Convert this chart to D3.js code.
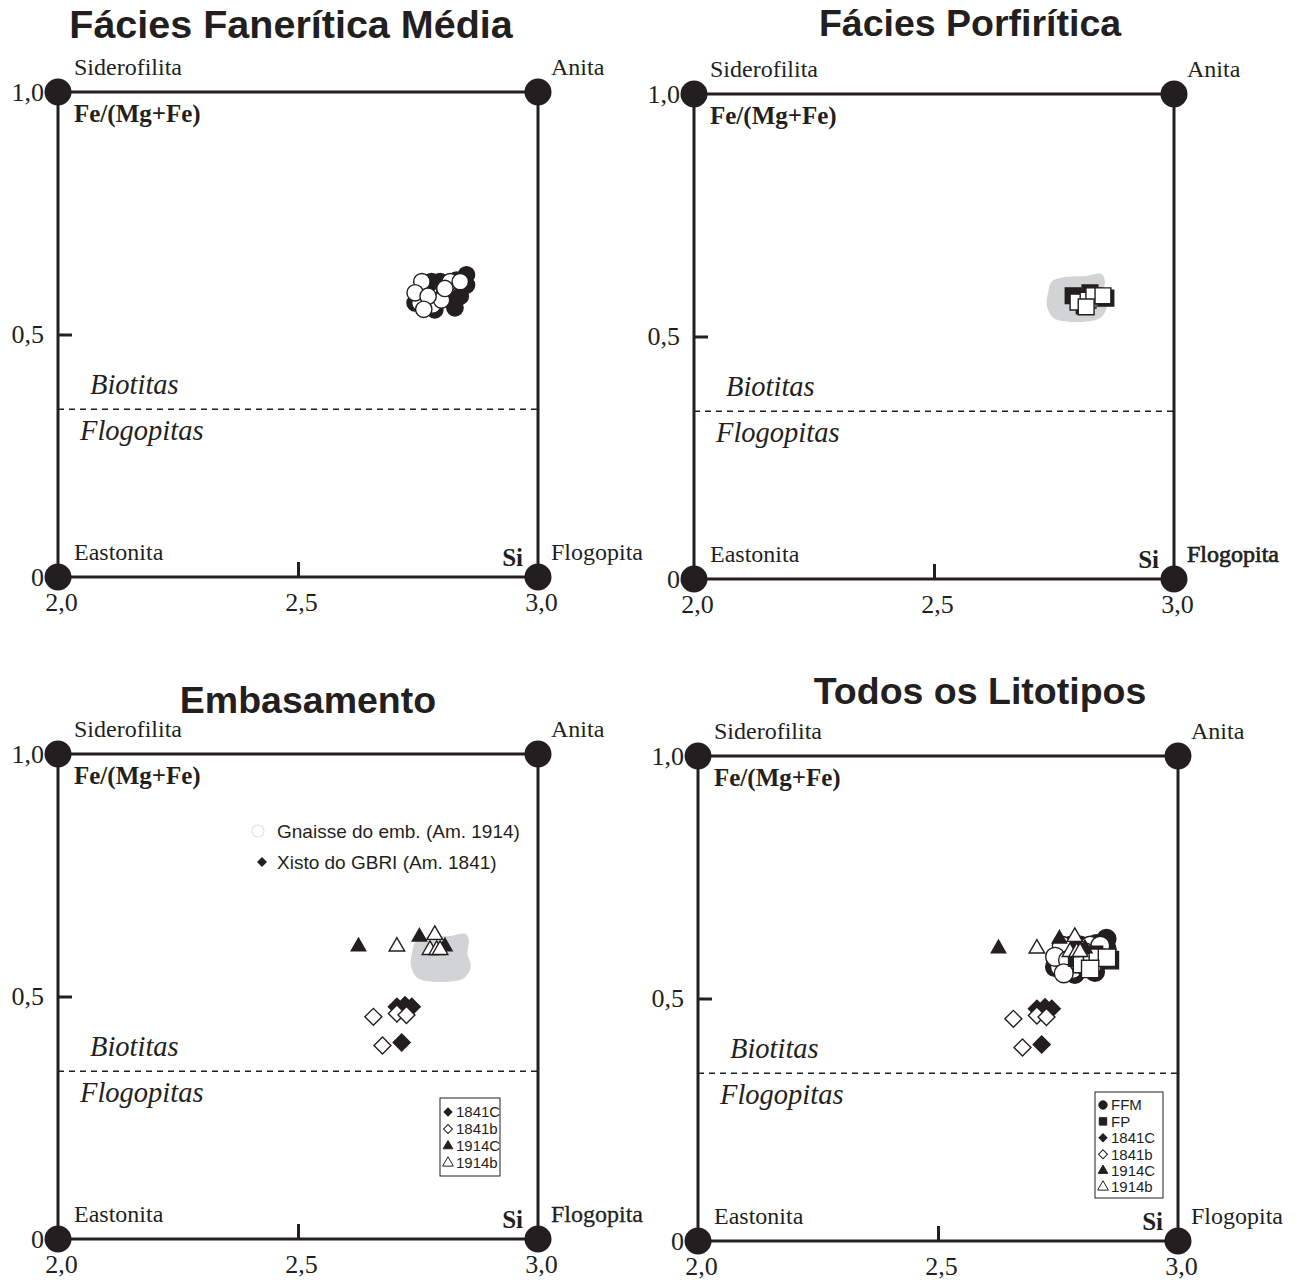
<!DOCTYPE html>
<html lang="pt">
<head>
<meta charset="UTF-8">
<title>Fe/(Mg+Fe) x Si - biotitas</title>
<script src="https://d3js.org/d3.v7.min.js"></script>
<style>
  body { margin: 0; background: #fff; }
  svg { display: block; }
  .serif { font-family: "Times New Roman", "Liberation Serif", serif; fill: #231f20; }
  .sans { font-family: Arial, "Liberation Sans", sans-serif; fill: #231f20; }
</style>
</head>
<body>
<svg width="1303" height="1282"></svg>
<script>
// Si (apfu) and Fe/(Mg+Fe)
const ffmSolid = [[2.778,0.609],[2.796,0.609],[2.851,0.623],[2.851,0.602],[2.820,0.571],[2.827,0.555],
                  [2.765,0.586],[2.806,0.588],[2.838,0.579],[2.785,0.551],[2.744,0.565],[2.830,0.612]];
const ffmOpen = [[2.758,0.609],[2.817,0.609],[2.838,0.609],[2.754,0.565],[2.781,0.561],[2.799,0.571],
                 [2.744,0.586],[2.771,0.579],[2.806,0.595],[2.762,0.552]];
const fpSolid = [[2.790,0.584],[2.802,0.575],[2.813,0.563],[2.858,0.579],[2.825,0.590]];
const fpOpen = [[2.800,0.571],[2.821,0.575],[2.833,0.584],[2.852,0.584],[2.817,0.561]];
const s1841C = [[2.706,0.479],[2.723,0.482],[2.737,0.479],[2.716,0.405]];
const s1841b = [[2.657,0.458],[2.706,0.465],[2.726,0.462],[2.676,0.399]];
const s1914C = [[2.626,0.603],[2.753,0.623],[2.806,0.603]];
const s1914b = [[2.706,0.603],[2.785,0.627],[2.775,0.596],[2.789,0.596],[2.796,0.596]];
// outline of the FFM field (grey area)
const fieldFFM = [[2.745,0.613],[2.776,0.623],[2.818,0.625],[2.849,0.629],[2.856,0.616],[2.853,0.589],
                  [2.860,0.561],[2.846,0.538],[2.818,0.531],[2.776,0.531],[2.749,0.538],[2.735,0.565],[2.738,0.592]];

const xTicks = [2.0, 2.5, 3.0];
const yTicks = [0, 0.5, 1.0];
const biotiteLimit = 0.346;
const corners = [
  { name: "Siderofilita", si: 2, fe: 1 },
  { name: "Anita", si: 3, fe: 1 },
  { name: "Eastonita", si: 2, fe: 0 },
  { name: "Flogopita", si: 3, fe: 0 }
];
const legendEmb = ["1841C", "1841b", "1914C", "1914b"];
const legendAll = ["FFM", "FP", "1841C", "1841b", "1914C", "1914b"];

const svg = d3.select("svg");
const W = 480, H = 485;
const ink = "#231f20";
const comma = d => d === 0 ? "0" : d3.format(".1f")(d).replace(".", ",");

const panels = [
  { ox: 58, oy: 92, title: "Fácies Fanerítica Média", tsize: 39.5, tx: 291, ty: 38, groups: ["ffm"] },
  { ox: 694, oy: 94, title: "Fácies Porfirítica", tsize: 37.5, tx: 970, ty: 36, groups: ["field", "fp"], flogo: 0.7 },
  { ox: 58, oy: 754, title: "Embasamento", tsize: 37.5, tx: 308, ty: 713, groups: ["field", "emb"], flogo: 0.3,
    legend: { x: 382, y: 344, w: 60, h: 78, items: legendEmb, top: 358, step: 17 } },
  { ox: 698, oy: 756, title: "Todos os Litotipos", tsize: 37.5, tx: 980, ty: 704, groups: ["ffm4", "fp4", "emb"],
    legend: { x: 397, y: 336, w: 68, h: 106, items: legendAll, top: 349, step: 16.4 } }
];

const sym = (type, size) => d3.symbol().type(type).size(size)();

// marker styles for each series
const marks = {
  "1841C": { type: d3.symbolSquare, size: 144, rot: 45, fill: ink },
  "1841b": { type: d3.symbolSquare, size: 144, rot: 45, fill: "#fff" },
  "1914C": { type: d3.symbolTriangle, size: 90, rot: 0, fill: ink },
  "1914b": { type: d3.symbolTriangle, size: 105, rot: 0, fill: "#fff" }
};
const legendMarks = {
  "FFM": { type: d3.symbolCircle, size: 55, rot: 0, fill: ink },
  "FP": { type: d3.symbolSquare, size: 55, rot: 0, fill: ink },
  "1841C": { type: d3.symbolSquare, size: 32, rot: 45, fill: ink },
  "1841b": { type: d3.symbolSquare, size: 40, rot: 45, fill: "#fff" },
  "1914C": { type: d3.symbolTriangle, size: 40, rot: 0, fill: ink },
  "1914b": { type: d3.symbolTriangle, size: 50, rot: 0, fill: "#fff" }
};

function drawPoints(g, x, y, data, m) {
  g.append("g").selectAll("path")
    .data(data)
    .join("path")
    .attr("d", sym(m.type, m.size))
    .attr("transform", d => `translate(${x(d[0])},${y(d[1])}) rotate(${m.rot})`)
    .attr("fill", m.fill)
    .attr("stroke", ink)
    .attr("stroke-width", 1.4);
}

function drawPanel(p) {
  const g = svg.append("g").attr("transform", `translate(${p.ox},${p.oy})`);
  const x = d3.scaleLinear().domain([2, 3]).range([0, W]);
  const y = d3.scaleLinear().domain([0, 1]).range([H, 0]);

  svg.append("text").attr("class", "sans")
    .attr("x", p.tx).attr("y", p.ty)
    .attr("text-anchor", "middle")
    .attr("font-size", p.tsize).attr("font-weight", "bold")
    .text(p.title);

  // grey field of FFM compositions
  if (p.groups.includes("field")) {
    g.append("path")
      .attr("d", d3.line().x(d => x(d[0])).y(d => y(d[1])).curve(d3.curveCatmullRomClosed)(fieldFFM))
      .attr("fill", "#d1d3d4");
  }

  // frame
  g.append("rect")
    .attr("x", x(2)).attr("y", y(1))
    .attr("width", x(3) - x(2)).attr("height", y(0) - y(1))
    .attr("fill", "none").attr("stroke", ink).attr("stroke-width", 3);

  // biotite / phlogopite limit
  g.append("line")
    .attr("x1", x(2)).attr("x2", x(3))
    .attr("y1", y(biotiteLimit)).attr("y2", y(biotiteLimit))
    .attr("stroke", ink).attr("stroke-width", 1.5).attr("stroke-dasharray", "6,5");

  // axes
  const xa = g.append("g").attr("transform", `translate(0,${H})`)
    .call(d3.axisBottom(x).tickValues(xTicks).tickSizeInner(-15).tickSizeOuter(0).tickPadding(16).tickFormat(comma));
  const ya = g.append("g")
    .call(d3.axisLeft(y).tickValues(yTicks).tickSizeInner(-14).tickSizeOuter(0).tickPadding(14).tickFormat(comma));
  [xa, ya].forEach(a => {
    a.select(".domain").remove();
    a.selectAll(".tick line").attr("stroke", ink).attr("stroke-width", 3)
      .attr("opacity", d => (d === 0.5 || d === 2.5) ? 1 : 0);
    a.selectAll(".tick text").attr("class", "serif").attr("font-size", 26).attr("fill", ink);
  });
  xa.selectAll(".tick text").attr("dx", 3);
  ya.selectAll(".tick text").attr("dy", "0.31em");

  // corner end-members
  g.append("g").selectAll("circle")
    .data(corners)
    .join("circle")
    .attr("cx", d => x(d.si)).attr("cy", d => y(d.fe))
    .attr("r", 13.5).attr("fill", ink);
  g.append("g").selectAll("text")
    .data(corners)
    .join("text")
    .attr("class", "serif")
    .attr("font-size", 24)
    .attr("x", d => x(d.si) + (d.si === 2 ? 16 : 13))
    .attr("y", d => y(d.fe) - 17)
    .attr("stroke", d => (d.name === "Flogopita" && p.flogo) ? ink : "none")
    .attr("stroke-width", d => (d.name === "Flogopita" && p.flogo) ? p.flogo : 0)
    .text(d => d.name);

  g.append("text").attr("class", "serif")
    .attr("x", x(2) + 16).attr("y", y(1) + 30)
    .attr("font-size", 25).attr("font-weight", "bold")
    .text("Fe/(Mg+Fe)");
  g.append("text").attr("class", "serif")
    .attr("x", x(3) - 15).attr("y", y(0) - 11)
    .attr("text-anchor", "end")
    .attr("font-size", 25).attr("font-weight", "bold")
    .text("Si");

  g.append("text").attr("class", "serif")
    .attr("x", x(2) + 32).attr("y", y(biotiteLimit) - 15)
    .attr("font-size", 28.5).attr("font-style", "italic")
    .text("Biotitas");
  g.append("text").attr("class", "serif")
    .attr("x", x(2) + 22).attr("y", y(biotiteLimit) + 31)
    .attr("font-size", 28.5).attr("font-style", "italic")
    .text("Flogopitas");

  // data
  if (p.groups.includes("ffm") || p.groups.includes("ffm4")) {
    const r = p.groups.includes("ffm4") ? 280 : 210;
    drawPoints(g, x, y, ffmSolid, { type: d3.symbolCircle, size: r, rot: 0, fill: ink });
    drawPoints(g, x, y, ffmOpen, { type: d3.symbolCircle, size: r, rot: 0, fill: "#fff" });
  }
  if (p.groups.includes("fp") || p.groups.includes("fp4")) {
    const s = p.groups.includes("fp4") ? 300 : 250;
    drawPoints(g, x, y, fpSolid, { type: d3.symbolSquare, size: s, rot: 0, fill: ink });
    drawPoints(g, x, y, fpOpen, { type: d3.symbolSquare, size: s, rot: 0, fill: "#fff" });
  }
  if (p.groups.includes("emb")) {
    drawPoints(g, x, y, s1914C, marks["1914C"]);
    drawPoints(g, x, y, s1914b, marks["1914b"]);
    drawPoints(g, x, y, s1841C, marks["1841C"]);
    drawPoints(g, x, y, s1841b, marks["1841b"]);
  }

  // small boxed legend
  if (p.legend) {
    const L = p.legend;
    const lg = g.append("g");
    lg.append("rect").attr("x", L.x).attr("y", L.y).attr("width", L.w).attr("height", L.h)
      .attr("fill", "#fff").attr("stroke", ink).attr("stroke-width", 1);
    const row = lg.selectAll("g.row").data(L.items).join("g")
      .attr("transform", (d, i) => `translate(${L.x + 8},${L.top + i * L.step})`);
    row.append("path")
      .attr("d", d => sym(legendMarks[d].type, legendMarks[d].size))
      .attr("transform", d => `rotate(${legendMarks[d].rot})`)
      .attr("fill", d => legendMarks[d].fill)
      .attr("stroke", ink).attr("stroke-width", 1);
    row.append("text").attr("class", "sans")
      .attr("x", 8).attr("dy", "0.36em")
      .attr("font-size", 15)
      .text(d => d);
  }

  return g;
}

const gs = panels.map(drawPanel);

// sample legend in the basement panel
const g3 = gs[2];
g3.append("circle").attr("cx", 200).attr("cy", 77).attr("r", 6)
  .attr("fill", "#fff").attr("stroke", "#e4e4e4").attr("stroke-width", 1.2);
g3.append("text").attr("class", "sans").attr("x", 219).attr("y", 84)
  .attr("font-size", 19).attr("fill", "#333").text("Gnaisse do emb. (Am. 1914)");
g3.append("path").attr("d", sym(d3.symbolSquare, 50))
  .attr("transform", "translate(204,108) rotate(45)").attr("fill", ink);
g3.append("text").attr("class", "sans").attr("x", 219).attr("y", 115)
  .attr("font-size", 19).attr("fill", "#333").text("Xisto do GBRI (Am. 1841)");
</script>
</body>
</html>
